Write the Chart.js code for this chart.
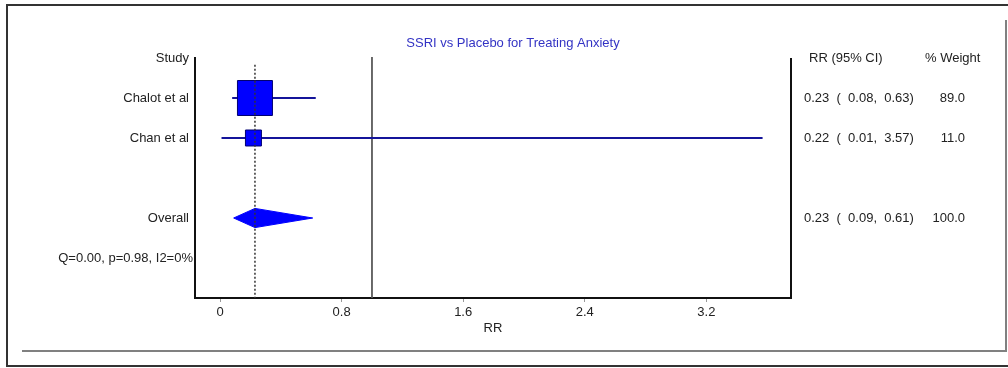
<!DOCTYPE html>
<html>
<head>
<meta charset="utf-8">
<script src="https://cdn.jsdelivr.net/npm/chart.js@4.4.0/dist/chart.umd.min.js"></script>
<style>
  body { margin: 0; background: #fff; }
  canvas { display: block; }
</style>
</head>
<body>
<canvas id="forestPlot" width="1008" height="368"></canvas>
<script>
var studies = ["Chalot et al", "Chan et al"];
var studyRR = [0.23, 0.22];
var studyLow = [0.08, 0.01];
var studyHigh = [0.63, 3.57];
var studyWeight = [89.0, 11.0];
var overallRR = 0.23;
var overallLow = 0.09;
var overallHigh = 0.61;
var overallWeight = 100.0;
var heterogeneity = "Q=0.00, p=0.98, I2=0%";
var xTicks = [0, 0.8, 1.6, 2.4, 3.2];
var nullValue = 1;

var chartTitle = "SSRI vs Placebo for Treating Anxiety";
var FONT = "'Liberation Sans', Arial, sans-serif";
var TEXT = "#222";

// rows: 0 header, 1..n studies, n+1 blank, n+2 overall, n+3 heterogeneity
var n = studies.length;
var overallRow = n + 2;
var statsRow = n + 3;
var yMin = -0.025, yMax = n + 4;

function boxSide(w) { return 13.3 + 0.2436 * w; }

var datasets = [];

// line of no effect
datasets.push({
  type: "line",
  data: [{x: nullValue, y: yMin}, {x: nullValue, y: yMax}],
  borderColor: "#555", borderWidth: 1, pointRadius: 0, order: 9
});

// confidence intervals
studies.forEach(function (s, i) {
  datasets.push({
    type: "line",
    data: [{x: studyLow[i], y: i + 1}, {x: studyHigh[i], y: i + 1}],
    borderColor: "#14149a", borderWidth: 2, pointRadius: 0, order: 5
  });
});

// study boxes, size from weight
datasets.push({
  type: "scatter",
  data: studies.map(function (s, i) { return {x: studyRR[i], y: i + 1}; }),
  pointStyle: "rect",
  pointRadius: function (ctx) { return boxSide(studyWeight[ctx.dataIndex]) / Math.SQRT2; },
  backgroundColor: "#0000ff", borderColor: "#000070", borderWidth: 1, order: 3
});

// overall diamond
var dh = 0.24;
datasets.push({
  type: "line",
  data: [
    {x: overallLow, y: overallRow}, {x: overallRR, y: overallRow - dh},
    {x: overallHigh, y: overallRow}, {x: overallRR, y: overallRow + dh},
    {x: overallLow, y: overallRow}
  ],
  borderColor: "#0000ff", borderWidth: 1, backgroundColor: "#0000ff",
  fill: "shape", tension: 0, pointRadius: 0, order: 2
});

// pooled estimate, dotted
datasets.push({
  type: "line",
  data: [{x: overallRR, y: 0.17}, {x: overallRR, y: yMax}],
  borderColor: "#333", borderWidth: 1.5, borderDash: [2, 2], pointRadius: 0, order: 0
});

var forestText = {
  id: "forestText",
  beforeDraw: function (chart) {
    var c = chart.ctx;
    c.save();
    c.fillStyle = "#fff";
    c.fillRect(0, 0, chart.width, chart.height);
    c.lineWidth = 2;
    c.strokeStyle = "#333";
    c.beginPath();
    c.moveTo(1008, 5); c.lineTo(7, 5); c.lineTo(7, 366); c.lineTo(1008, 366);
    c.stroke();
    c.strokeStyle = "#808080";
    c.beginPath();
    c.moveTo(1006, 20); c.lineTo(1006, 351); c.lineTo(22, 351);
    c.stroke();
    c.restore();
  },
  afterDraw: function (chart) {
    var c = chart.ctx, a = chart.chartArea, y = chart.scales.y;
    c.save();
    c.strokeStyle = "#111";
    c.lineWidth = 2;
    c.beginPath();
    c.moveTo(a.left, a.top); c.lineTo(a.left, a.bottom);
    c.moveTo(a.right, a.top + 1); c.lineTo(a.right, a.bottom);
    c.stroke();

    c.font = "13px " + FONT;
    c.fillStyle = "#3333c4";
    c.textAlign = "center";
    c.textBaseline = "middle";
    c.fillText(chartTitle, 513, 43);

    c.fillStyle = TEXT;
    c.textAlign = "right";
    c.fillText("Study", 189, y.getPixelForValue(0));
    studies.forEach(function (s, i) { c.fillText(s, 189, y.getPixelForValue(i + 1)); });
    c.fillText("Overall", 189, y.getPixelForValue(overallRow));
    c.fillText(heterogeneity, 193, y.getPixelForValue(statsRow));

    c.textAlign = "left";
    c.fillText("RR (95% CI)", 809, y.getPixelForValue(0));
    c.fillText("% Weight", 925, y.getPixelForValue(0));
    function ci(r, lo, hi) { return r.toFixed(2) + "  (  " + lo.toFixed(2) + ",  " + hi.toFixed(2) + ")"; }
    studies.forEach(function (s, i) {
      c.textAlign = "left";
      c.fillText(ci(studyRR[i], studyLow[i], studyHigh[i]), 804, y.getPixelForValue(i + 1));
      c.textAlign = "right";
      c.fillText(studyWeight[i].toFixed(1), 965, y.getPixelForValue(i + 1));
    });
    c.textAlign = "left";
    c.fillText(ci(overallRR, overallLow, overallHigh), 804, y.getPixelForValue(overallRow));
    c.textAlign = "right";
    c.fillText(overallWeight.toFixed(1), 965, y.getPixelForValue(overallRow));
    c.restore();
  }
};

new Chart("forestPlot", {
  type: "scatter",
  data: { datasets: datasets },
  options: {
    responsive: false,
    animation: false,
    events: [],
    layout: { padding: { left: 195, right: 217, top: 57, bottom: 0 } },
    plugins: { legend: { display: false }, tooltip: { enabled: false } },
    scales: {
      x: {
        type: "linear",
        min: -0.1645,
        max: 3.757,
        afterBuildTicks: function (axis) { axis.ticks = xTicks.map(function (v) { return {value: v}; }); },
        afterFit: function (axis) { axis.height = 70; },
        border: { display: true, color: "#111", width: 2 },
        grid: { drawOnChartArea: false, drawTicks: true, tickLength: 4, color: "#999" },
        ticks: {
          padding: 3, color: TEXT, font: { family: FONT, size: 13 },
          maxRotation: 0, autoSkip: false,
          callback: function (v) { return String(v); }
        },
        title: { display: true, text: "RR", color: TEXT, font: { family: FONT, size: 13 }, padding: { top: 0, bottom: 32 } }
      },
      y: { type: "linear", display: false, min: yMin, max: yMax, reverse: true }
    }
  },
  plugins: [forestText]
});
</script>
</body>
</html>
